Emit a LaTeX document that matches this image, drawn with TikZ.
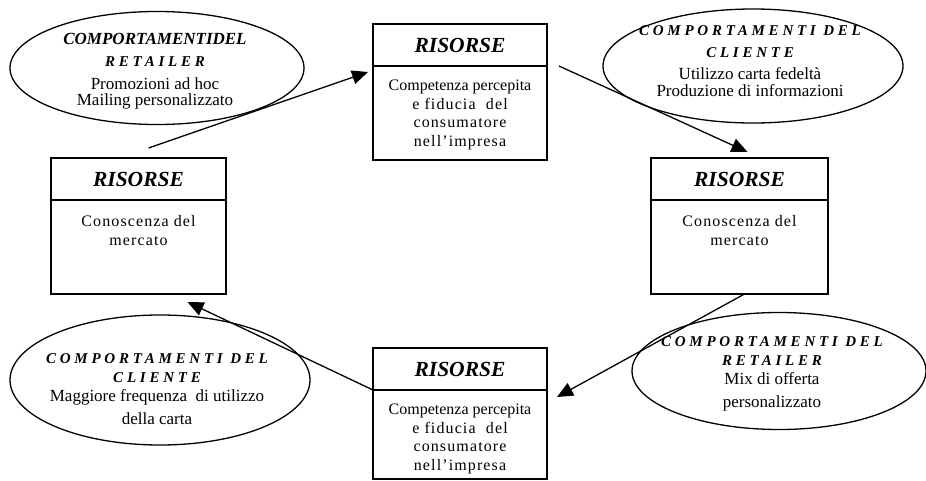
\documentclass[tikz,border=0pt]{standalone}
\usepackage{fontspec}
\setmainfont{Liberation Serif}
\newfontfamily\spacedfont[LetterSpace=25]{Liberation Serif}
\newfontfamily\loosefont[LetterSpace=7]{Liberation Serif}
\usetikzlibrary{
  arrows.meta,
  positioning,
  shapes.geometric}
\tikzset{every picture/.style={font issue=\fontsize{16}{18.5}},
         font issue/.style={execute at begin picture={#1\selectfont}},
         headbox/.style={draw, line width=1.3pt, outer sep=0pt, inner sep=0pt,
                         minimum width=174pt, minimum height=42pt,
                         font=\fontsize{21.5}{24}\selectfont\bfseries\itshape},
         bodybox/.style={draw, line width=1.3pt, outer sep=0pt, inner sep=0pt,
                         minimum width=174pt, minimum height=94pt},
         boxtext/.style={align=center, inner sep=0pt},
         bubble/.style={draw, ellipse, line width=1.3pt, inner sep=0pt},
         bubbletext/.style={align=center, inner sep=0pt, font=\fontsize{17}{19}\selectfont},
         link/.style={line width=1.3pt, -{Triangle[length=16pt,width=14pt]}}
        }
\newcommand{\bubblehead}[1]{{\spacedfont\fontsize{15}{19}\selectfont\bfseries\itshape #1}}

\begin{document}
\begin{tikzpicture}[x=1pt,y=-1pt]
\useasboundingbox (0,0) rectangle (926,480);
% risorse
\node[headbox] at (460,45)(tophead){RISORSE};
\node[bodybox, below=0pt of tophead](topbody){};
\node[boxtext, below=14pt of topbody.north](toptext){Competenza percepita\\{\loosefont e fiducia\ \ del}\\{\loosefont consumatore}\\{\loosefont nell’impresa}};
\node[headbox, minimum width=175pt] at (138.5,179)(lefthead){RISORSE};
\node[bodybox, minimum width=175pt, below=0pt of lefthead](leftbody){};
\node[boxtext, below=15pt of leftbody.north](lefttext){{\loosefont Conoscenza del}\\[1pt]{\loosefont mercato}};
\node[headbox, minimum width=177pt] at (739.5,179)(righthead){RISORSE};
\node[bodybox, minimum width=177pt, below=0pt of righthead](rightbody){};
\node[boxtext, below=15pt of rightbody.north](righttext){{\loosefont Conoscenza del}\\[1pt]{\loosefont mercato}};
\node[headbox] at (460,369)(bothead){RISORSE};
\node[bodybox, minimum height=89pt, below=0pt of bothead](botbody){};
\node[boxtext, below=14pt of botbody.north](bottext){Competenza percepita\\{\loosefont e fiducia\ \ del}\\{\loosefont consumatore}\\{\loosefont nell’impresa}};
% comportamenti
\node[bubble, minimum width=294pt, minimum height=113pt] at (157,68)(retailtop){};
\node[bubbletext] at (155,71)(retailtoptext){{\fontsize{17}{19}\selectfont\bfseries\itshape COMPORTAMENTIDEL}\\[3pt]\bubblehead{RETAILER}\\[4pt]Promozioni ad hoc\\[-3pt]Mailing personalizzato};
\node[bubble, minimum width=300pt, minimum height=114pt] at (753,66)(clienttop){};
\node[bubbletext] at (750,61)(clienttoptext){\bubblehead{COMPORTAMENTI DEL}\\[3pt]\bubblehead{CLIENTE}\\[3pt]Utilizzo carta fedeltà\\[-2pt]Produzione di informazioni};
\node[bubble, minimum width=300pt, minimum height=130pt] at (160,380)(clientbot){};
\node[bubbletext] at (157,389)(clientbottext){\bubblehead{COMPORTAMENTI DEL}\\\bubblehead{CLIENTE}\\Maggiore\ frequenza\ \ di utilizzo\\[4pt]della carta};
\node[bubble, minimum width=294pt, minimum height=117pt] at (779,371)(retailbot){};
\node[bubbletext] at (772,374)(retailbottext){\bubblehead{COMPORTAMENTI DEL}\\\bubblehead{RETAILER}\\Mix di offerta\\[4pt]personalizzato};
% ciclo
\draw[link]([xshift=10pt,yshift=10pt]lefthead.north) -- ([xshift=-5pt,yshift=-6pt]tophead.south west);
\draw[link]([xshift=12pt]tophead.south east) -- ([xshift=8pt,yshift=6pt]righthead.north);
\draw[link]([xshift=5pt]rightbody.south) -- ([xshift=10pt,yshift=-7pt]bothead.south east);
\draw[link](bothead.south west) -- ([xshift=49pt,yshift=-8pt]leftbody.south);
\end{tikzpicture}
\end{document}
